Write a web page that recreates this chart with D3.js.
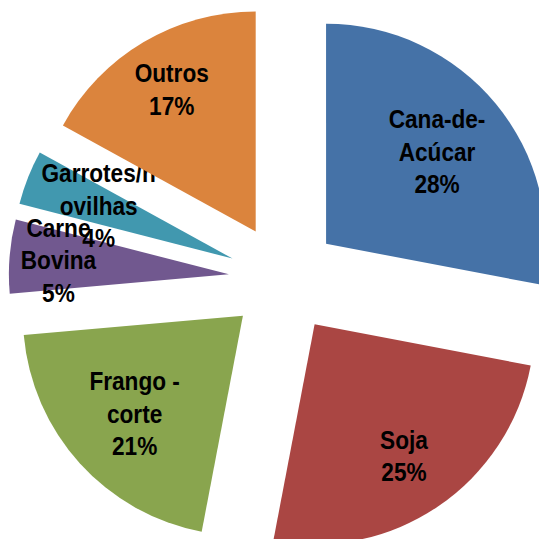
<!DOCTYPE html>
<html>
<head>
<meta charset="utf-8">
<script src="https://cdn.jsdelivr.net/npm/d3@7"></script>
<style>
  html, body { margin: 0; padding: 0; background: #fff; overflow: hidden; }
  svg { display: block; }
  .lbl { font-family: "Liberation Sans", Arial, sans-serif; font-weight: bold; font-size: 26px; fill: #000; }
</style>
</head>
<body>
<svg id="chart" width="539" height="539"></svg>
<script>
// ---- data ----
const categories = ["Cana-de-Acúcar", "Soja", "Frango - corte", "Carne Bovina", "Garrotes/novilhas", "Outros"];
const values = [28, 25, 20.6, 5.4, 4, 17];
const labelLines = [["Cana-de-", "Acúcar"], ["Soja"], ["Frango -", "corte"], ["Carne", "Bovina"], ["Garrotes/n", "ovilhas"], ["Outros"]];
const colors = ["#4572A7", "#AA4643", "#89A54E", "#71588F", "#4198AF", "#DB843D"];

// ---- layout ----
const W = 539, H = 539;
const cx = 283.7, cy = 278.8;
const R = 220;          // pie radius
const explode = 55;     // explosion distance of every slice
const labelRadius = [144, 159, 146, 171, 144, 165]; // best-fit label distance per slice
const lineH = 32.5;
const condense = 0.87;  // narrow bold face look

const svg = d3.select("#chart");
const total = d3.sum(values);
const pie = d3.pie().sort(null).value(d => d).startAngle(0).endAngle(2 * Math.PI);
const arcs = pie(values);
const arc = d3.arc().innerRadius(0).outerRadius(R);

const g = svg.append("g").attr("transform", `translate(${cx},${cy})`);

const slices = g.selectAll("g.slice").data(arcs).join("g")
  .attr("class", "slice")
  .attr("transform", d => {
    const m = (d.startAngle + d.endAngle) / 2;
    return `translate(${explode * Math.sin(m)},${-explode * Math.cos(m)})`;
  });

slices.append("path")
  .attr("d", arc)
  .attr("fill", (d, i) => colors[i]);

// labels
const fmt = v => Math.round(v / total * 100) + "%";
slices.each(function(d, i) {
  const m = (d.startAngle + d.endAngle) / 2;
  const lr = labelRadius[i];
  const x = lr * Math.sin(m), y = -lr * Math.cos(m);
  const lines = labelLines[i].concat([fmt(values[i])]);
  const n = lines.length;
  const t = d3.select(this).append("text")
    .attr("class", "lbl")
    .attr("text-anchor", "middle")
    .attr("transform", `translate(${x},${y}) scale(${condense},1)`);
  lines.forEach((s, k) => {
    t.append("tspan")
      .attr("x", 0)
      .attr("y", (k - (n - 1) / 2) * lineH + 9)
      .text(s);
  });
});
</script>
</body>
</html>
